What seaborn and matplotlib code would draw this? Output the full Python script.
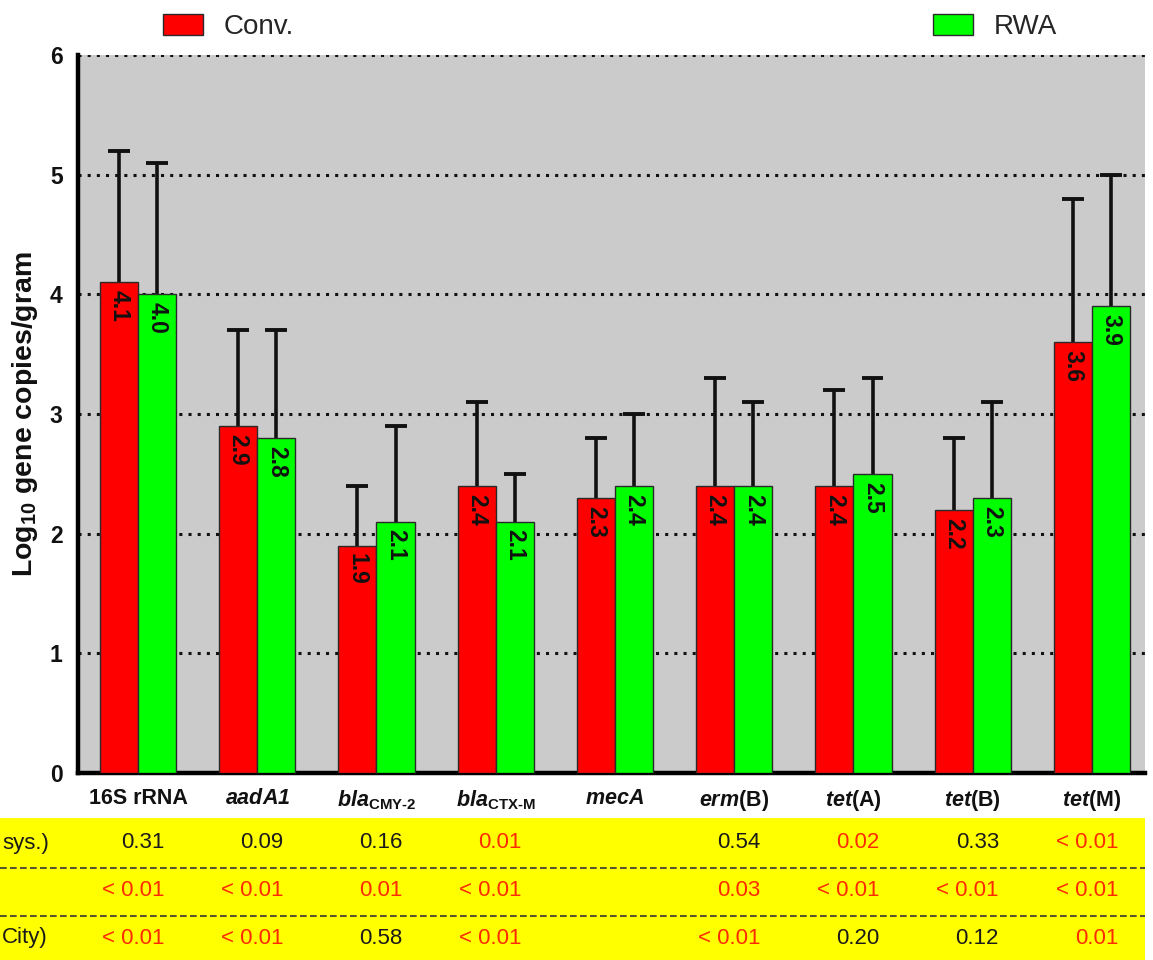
import numpy as np
import pandas as pd
import matplotlib
matplotlib.use("Agg")
import matplotlib.pyplot as plt
import matplotlib.transforms as mtransforms
from matplotlib.patches import Rectangle
from matplotlib.lines import Line2D
import seaborn as sns

# ---- data -------------------------------------------------------------
genes = ["16S rRNA", "aadA1", "blaCMY-2", "blaCTX-M", "mecA",
         "erm(B)", "tet(A)", "tet(B)", "tet(M)"]
HY = "\u2010"  # typographic hyphen for subscripts
gene_labels = [
    "16S rRNA",
    r"$\mathbfit{aadA1}$",
    r"$\mathbfit{bla}_{\mathbf{CMY" + HY + r"2}}$",
    r"$\mathbfit{bla}_{\mathbf{CTX" + HY + r"M}}$",
    r"$\mathbfit{mecA}$",
    r"$\mathbfit{erm}$(B)",
    r"$\mathbfit{tet}$(A)",
    r"$\mathbfit{tet}$(B)",
    r"$\mathbfit{tet}$(M)",
]
conv_mean = [4.1, 2.9, 1.9, 2.4, 2.3, 2.4, 2.4, 2.2, 3.6]
rwa_mean = [4.0, 2.8, 2.1, 2.1, 2.4, 2.4, 2.5, 2.3, 3.9]
conv_sd = [1.1, 0.8, 0.5, 0.7, 0.5, 0.9, 0.8, 0.6, 1.2]
rwa_sd = [1.1, 0.9, 0.8, 0.4, 0.6, 0.7, 0.8, 0.8, 1.1]

# p-values shown beneath each gene (blank = not reported)
p_row1 = ["0.31", "0.09", "0.16", "0.01", "", "0.54", "0.02", "0.33", "< 0.01"]
p_row2 = ["< 0.01", "< 0.01", "0.01", "< 0.01", "", "0.03", "< 0.01", "< 0.01", "< 0.01"]
p_row3 = ["< 0.01", "< 0.01", "0.58", "< 0.01", "", "< 0.01", "0.20", "0.12", "0.01"]
row_labels = ["sys.)", "", "City)"]

groups = ["Conv.", "RWA"]
palette = {"Conv.": "#ff0000", "RWA": "#00ff00"}

# ---- style ------------------------------------------------------------
sns.set_theme(style="white")
plt.rcParams["font.family"] = ["Liberation Sans", "DejaVu Sans"]
plt.rcParams["mathtext.fontset"] = "custom"
plt.rcParams["mathtext.rm"] = "Liberation Sans"
plt.rcParams["mathtext.it"] = "Liberation Sans:italic"
plt.rcParams["mathtext.bf"] = "Liberation Sans:bold"
plt.rcParams["mathtext.bfit"] = "Liberation Sans:italic:bold"

W, H = 1153, 960
AX_L, AX_R, AX_T, AX_B = 78, 1145, 55, 773
fig = plt.figure(figsize=(W / 100, H / 100), dpi=100)
ax = fig.add_axes([AX_L / W, 1 - AX_B / H, (AX_R - AX_L) / W, (AX_B - AX_T) / H])
ax.set_facecolor("#cbcbcb")

df = pd.DataFrame({
    "gene": genes * 2,
    "value": conv_mean + rwa_mean,
    "group": ["Conv."] * len(genes) + ["RWA"] * len(genes),
})

sns.barplot(data=df, x="gene", y="value", hue="group", hue_order=groups,
            order=genes, palette=palette, saturation=1, width=0.64,
            errorbar=None, edgecolor="#2a2a2a", linewidth=1.0, legend=False,
            ax=ax, zorder=3)

# upward-only error bars (stem + top cap) and rotated value labels
cap_half = 0.092
for cont, means, sds in zip(ax.containers, [conv_mean, rwa_mean], [conv_sd, rwa_sd]):
    xs = np.array([b.get_x() + b.get_width() / 2 for b in cont])
    tops = np.array(means) + np.array(sds)
    ax.vlines(xs, means, tops, color="#111111", linewidth=2.6, zorder=2)
    ax.hlines(tops, xs - cap_half, xs + cap_half, color="#111111",
              linewidth=2.8, zorder=2)
    for x, v in zip(xs, means):
        ax.text(x, v - 0.065, f"{v:.1f}", rotation=270, ha="center", va="top",
                fontsize=16.5, fontweight="bold", color="#111111", zorder=5)

# axes styling
ax.set_xlim(-0.503, 8.445)
ax.set_ylim(0, 6)
ax.set_yticks(range(0, 7))
ax.yaxis.grid(True, color="#111111", linestyle=(0, (1, 2)), linewidth=2.2)
ax.xaxis.grid(False)
ax.set_axisbelow(True)
for s in ["top", "right"]:
    ax.spines[s].set_visible(False)
for s in ["left", "bottom"]:
    ax.spines[s].set_linewidth(3.2)
    ax.spines[s].set_color("#000000")
ax.tick_params(axis="both", which="major", direction="out", length=8,
               width=3, color="#000000", pad=3)
ax.set_xticks(range(len(genes)))
ax.set_xticklabels(gene_labels, fontsize=15.5, fontweight="bold", color="#111111")
for t in ax.get_yticklabels():
    t.set_fontsize(16.5)
    t.set_fontweight("bold")
    t.set_color("#111111")
ax.set_xlabel("")
ax.set_ylabel(r"Log$_{\mathbf{10}}$ gene copies/gram", fontsize=20.5,
              fontweight="bold", color="#111111")
ax.yaxis.label.set_va("center")
ax.yaxis.set_label_coords((25 - AX_L) / (AX_R - AX_L), 0.5)

# legend entries above the plot
for cont, name, x0 in zip(ax.containers, groups, [163, 933]):
    fig.legend(handles=[cont[0]], labels=[name], loc="center left",
               bbox_to_anchor=(x0 / W, 1 - 27 / H), frameon=False,
               fontsize=20, borderpad=0, borderaxespad=0,
               handlelength=1.45, handleheight=0.8, handletextpad=0.75)

# p-value table
fig.patches.append(Rectangle((0, 0), AX_R / W, 142 / H, transform=fig.transFigure,
                             facecolor="#ffff00", edgecolor="none", zorder=-10))
for yl in [868, 916]:
    fig.add_artist(Line2D([0, AX_R / W], [1 - yl / H] * 2, transform=fig.transFigure,
                          color="#333333", linestyle=(0, (4, 2)), linewidth=1.2,
                          zorder=1))

blend = mtransforms.blended_transform_factory(ax.transData, fig.transFigure)
row_y = [843, 890, 938]
for row, label, ypx in zip([p_row1, p_row2, p_row3], row_labels, row_y):
    yf = 1 - ypx / H
    for i, p in enumerate(row):
        if not p:
            continue
        val = float(p.replace("<", "").strip())
        signif = p.startswith("<") or val < 0.05
        fig.text(i + 0.22, yf, p, transform=blend, ha="right", va="center",
                 fontsize=16, color="#ff2a00" if signif else "#1a1a1a",
                 zorder=5)
    if label:
        fig.text(2 / W, yf, label, ha="left", va="center", fontsize=16,
                 color="#1a1a1a", zorder=5)

fig.savefig("out.png", dpi=100)
